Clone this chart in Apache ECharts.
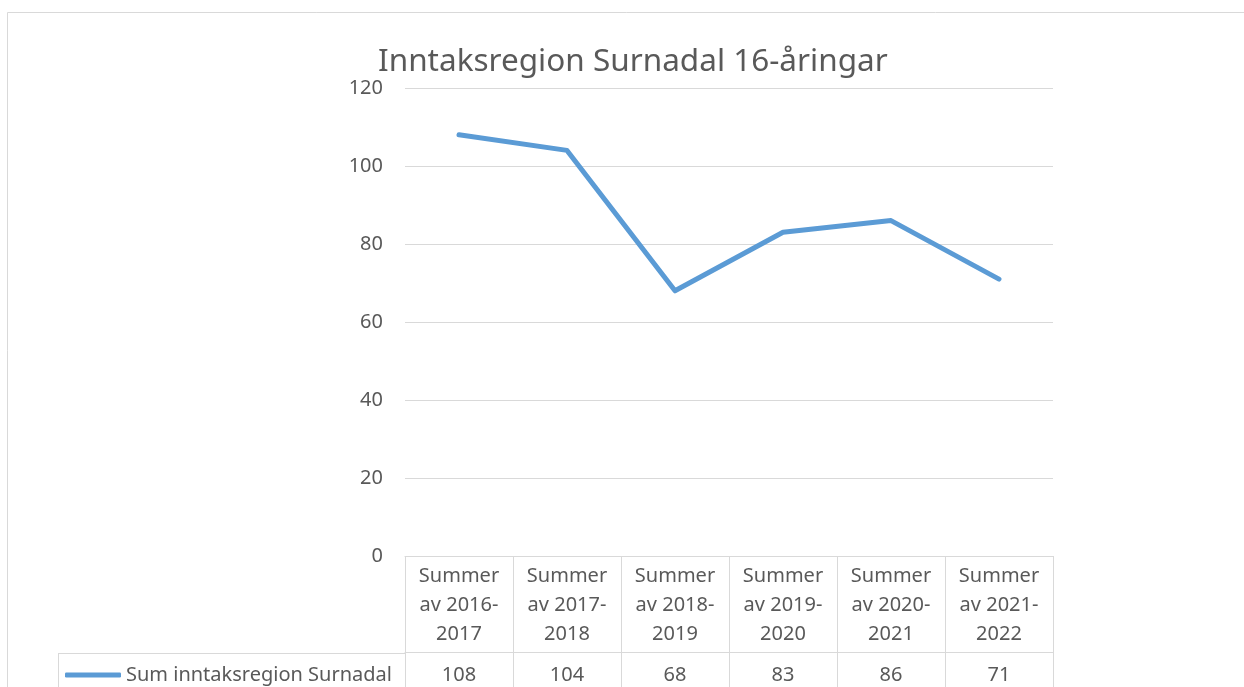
<!DOCTYPE html>
<html>
<head>
<meta charset="utf-8">
<script src="https://cdn.jsdelivr.net/npm/echarts@6/dist/echarts.min.js"></script>
<style>
  html, body { margin: 0; padding: 0; background: #fff; }
  #chart { width: 1244px; height: 687px; }
</style>
</head>
<body>
<div id="chart"></div>
<script>
// data
var categories = ['Summer\nav 2016-\n2017', 'Summer\nav 2017-\n2018', 'Summer\nav 2018-\n2019',
                  'Summer\nav 2019-\n2020', 'Summer\nav 2020-\n2021', 'Summer\nav 2021-\n2022'];
var seriesName = 'Sum inntaksregion Surnadal';
var values = [108, 104, 68, 83, 86, 71];
var yTicks = { min: 0, max: 120, interval: 20 };

var textColor = '#595959';
var gridColor = '#d9d9d9';
var font = 'Noto Sans';

var chart = echarts.init(document.getElementById('chart'));

var option = {
    backgroundColor: '#fff',
    textStyle: { fontFamily: font },
    title: {
        text: 'Inntaksregion Surnadal 16-åringar',
        left: 373,
        top: 41,
        textStyle: { fontFamily: font, fontSize: 31.5, fontWeight: 'normal', color: textColor }
    },
    legend: {
        left: 65,
        top: 665,
        padding: 0,
        icon: 'roundRect',
        itemWidth: 56,
        itemHeight: 5,
        textStyle: { fontFamily: font, fontSize: 20, color: textColor },
        data: [seriesName]
    },
    grid: { left: 405, right: 191, top: 88, bottom: 130 },
    xAxis: [{
        type: 'category',
        data: categories,
        boundaryGap: true,
        axisLine: { lineStyle: { color: gridColor, width: 1 } },
        axisTick: { show: true, length: 131, interval: 0, lineStyle: { color: gridColor, width: 1 } },
        axisLabel: { interval: 0, margin: 6, fontSize: 20, lineHeight: 29, color: textColor, fontFamily: font },
        splitLine: { show: false }
    }, {
        type: 'category',
        position: 'bottom',
        offset: 96,
        data: values.map(String),
        axisLine: { lineStyle: { color: gridColor, width: 1 } },
        axisTick: { show: false },
        axisLabel: { interval: 0, margin: 11, fontSize: 20, lineHeight: 24, color: textColor, fontFamily: font }
    }],
    yAxis: {
        type: 'value',
        min: yTicks.min,
        max: yTicks.max,
        interval: yTicks.interval,
        axisLine: { show: false },
        axisTick: { show: false },
        axisLabel: { margin: 22, fontSize: 20, color: textColor, fontFamily: font },
        splitLine: { lineStyle: { color: gridColor, width: 1 } }
    },
    series: [{
        name: seriesName,
        type: 'line',
        xAxisIndex: 0,
        data: values,
        symbol: 'none',
        lineStyle: { color: '#5B9BD5', width: 5, cap: 'round', join: 'round' },
        itemStyle: { color: '#5B9BD5' },
        silent: true
    }],
    graphic: [
        // outer chart border
        { type: 'rect', silent: true, shape: { x: 7.5, y: 12.5, width: 1400, height: 900 },
          style: { fill: null, stroke: gridColor, lineWidth: 1 } },
        // legend cell of the data table
        { type: 'line', silent: true, shape: { x1: 58, y1: 653.5, x2: 405, y2: 653.5 },
          style: { stroke: gridColor, lineWidth: 1 } },
        { type: 'line', silent: true, shape: { x1: 58.5, y1: 653, x2: 58.5, y2: 700 },
          style: { stroke: gridColor, lineWidth: 1 } }
    ]
};

chart.setOption(option);
</script>
</body>
</html>
